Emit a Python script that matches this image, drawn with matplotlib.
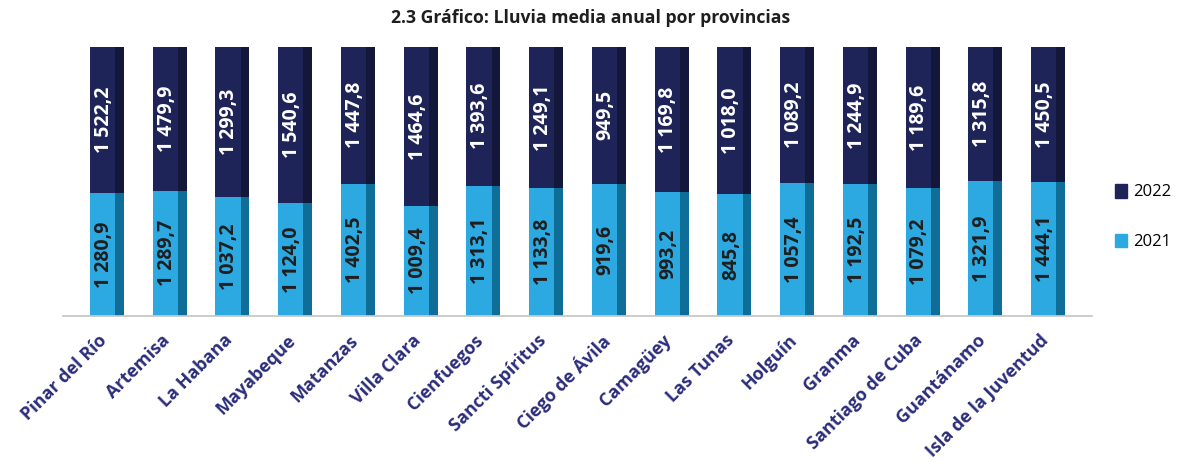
import matplotlib
matplotlib.use("Agg")
import matplotlib.pyplot as plt
from matplotlib.patches import Patch
from matplotlib.transforms import ScaledTranslation

provincias = ["Pinar del Río", "Artemisa", "La Habana", "Mayabeque", "Matanzas",
              "Villa Clara", "Cienfuegos", "Sancti Spíritus", "Ciego de Ávila",
              "Camagüey", "Las Tunas", "Holguín", "Granma", "Santiago de Cuba",
              "Guantánamo", "Isla de la Juventud"]
v2021 = [1280.9, 1289.7, 1037.2, 1124.0, 1402.5, 1009.4, 1313.1, 1133.8,
         919.6, 993.2, 845.8, 1057.4, 1192.5, 1079.2, 1321.9, 1444.1]
v2022 = [1522.2, 1479.9, 1299.3, 1540.6, 1447.8, 1464.6, 1393.6, 1249.1,
         949.5, 1169.8, 1018.0, 1089.2, 1244.9, 1189.6, 1315.8, 1450.5]
series_labels = ["2021", "2022"]
title = "2.3 Gráfico: Lluvia media anual por provincias"

FONT = "Open Sans"
c21, c21s = "#2DA9E1", "#0E6E98"
c22, c22s = "#1F2458", "#13173A"
navy_txt = "#2B2D7A"


def fmt(v):
    s = f"{v:,.1f}"
    return s.replace(",", " ").replace(".", ",")


fig = plt.figure(figsize=(11.77, 4.62), dpi=100)
ax = fig.add_axes([63 / 1177, 1 - 316 / 462, (1092 - 63) / 1177, (316 - 47) / 462])

x = list(range(len(provincias)))
tot = [a + b for a, b in zip(v2021, v2022)]
p21 = [a / t for a, t in zip(v2021, tot)]
p22 = [b / t for b, t in zip(v2022, tot)]

W = 0.54
FACE = 0.40
left = [i - W / 2 for i in x]
ax.bar(left, p21, width=W, align="edge", color=c21s, linewidth=0)
ax.bar(left, p22, width=W, bottom=p21, align="edge", color=c22s, linewidth=0)
ax.bar(left, p21, width=FACE, align="edge", color=c21, linewidth=0)
ax.bar(left, p22, width=FACE, bottom=p21, align="edge", color=c22, linewidth=0)

for i in x:
    xc = i - 0.05
    ax.text(xc, p21[i] / 2, fmt(v2021[i]), rotation=90, ha="center", va="center",
            fontsize=14, fontweight="bold", color="#1E1E1E", family=FONT)
    ax.text(xc, p21[i] + p22[i] / 2, fmt(v2022[i]), rotation=90, ha="center", va="center",
            fontsize=14, fontweight="bold", color="white", family=FONT)

ax.set_xlim(-0.70, 15.70)
ax.set_ylim(0, 1)
ax.set_yticks([])
ax.set_xticks(x)
ax.set_xticklabels(provincias, rotation=45, ha="right", rotation_mode="anchor",
                   fontsize=13, fontweight="bold", color=navy_txt, family=FONT)
ax.tick_params(axis="x", length=0, pad=11)
shift = ScaledTranslation(-9 / 100, 0, fig.dpi_scale_trans)
for lab in ax.get_xticklabels():
    lab.set_transform(lab.get_transform() + shift)
for s in ["top", "right", "left"]:
    ax.spines[s].set_visible(False)
ax.spines["bottom"].set_color("#C8C8C8")
ax.spines["bottom"].set_linewidth(1.3)

fig.text(591 / 1177, 1 - 18 / 462, title, ha="center", va="center",
         fontsize=12.7, fontweight="bold", color="#1E1E1E", family=FONT)

handles = [Patch(color=c22, label=series_labels[1]), Patch(color=c21, label=series_labels[0])]
fig.legend(handles=handles, loc="center left", bbox_to_anchor=(1100 / 1177, 1 - 217 / 462),
           frameon=False, handlelength=0.7, handleheight=0.9, handletextpad=0.4,
           labelspacing=2.0, prop={"family": FONT, "size": 12})

fig.savefig("out.png", dpi=100)
